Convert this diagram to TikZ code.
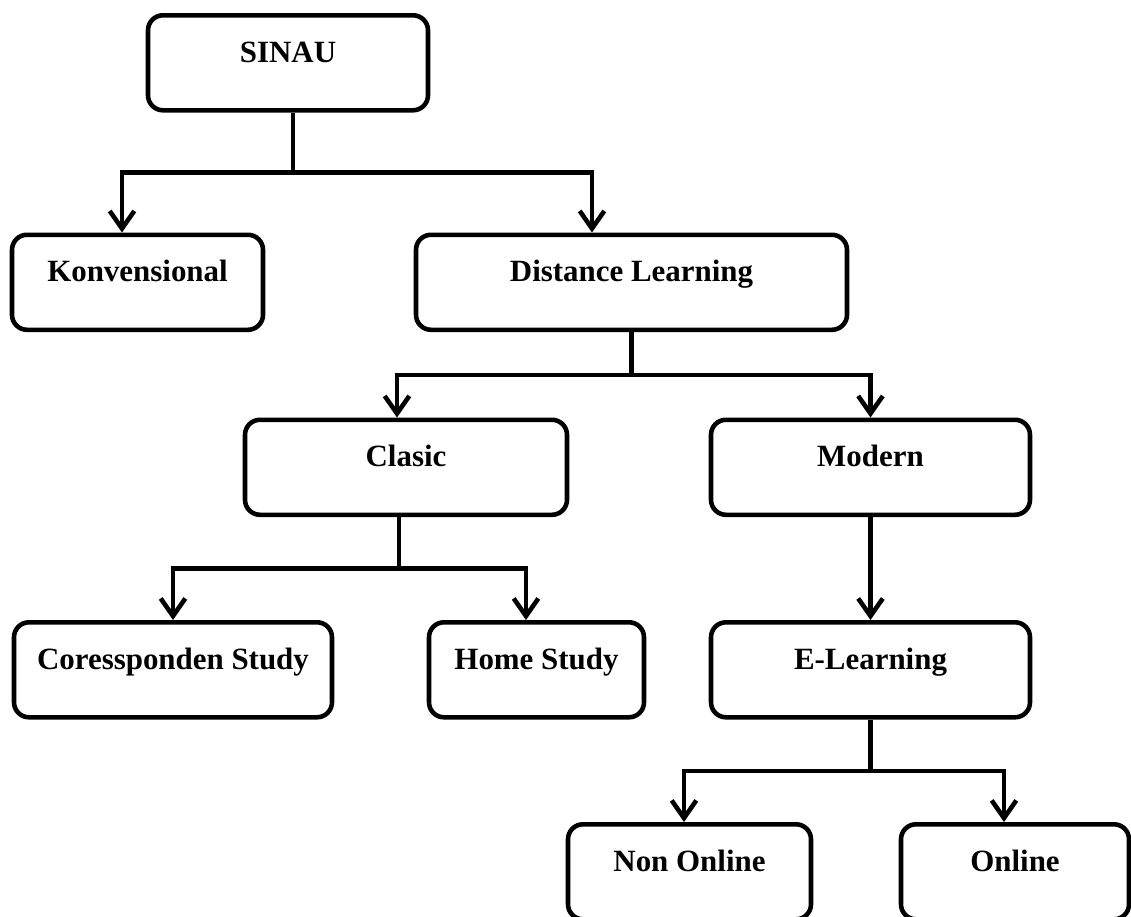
\documentclass[tikz,border=0pt]{standalone}
\usepackage{fontspec}
\setmainfont{Liberation Serif}
\usetikzlibrary{calc}
\usetikzlibrary{positioning}
\usetikzlibrary{arrows.meta}
\tikzset{
	>={Straight Barb[length=10pt,width=14pt]},
	kotak/.style={
		rectangle, 
		rounded corners=0.3cm, 
		draw=black, line width=2.6pt,
		text height=0.94cm, 
		text depth=0.96cm, 
		inner ysep=0pt,
		anchor=north,
		font=\bfseries\fontsize{17.6}{20}\selectfont},
	line/.style={draw, line width=2.6pt, ->},
}

\begin{document}
\begin{tikzpicture}
	\useasboundingbox (0,0) rectangle (22.62,-18.32);
	% boxes
	\node[kotak, minimum width=5.6cm] (sinau) at (5.76,-0.26) {SINAU};
	\node[kotak, minimum width=5.02cm] (konv) at (2.75,-4.65) {Konvensional};
	\node[kotak, minimum width=8.62cm] (distance) at (12.63,-4.65) {Distance Learning};
	\node[kotak, minimum width=6.44cm] (clasic) at (8.12,-8.35) {Clasic};
	\node[kotak, minimum width=6.38cm] (modern) at (17.41,-8.35) {Modern};
	\node[kotak, minimum width=6.36cm] (cores) at (3.46,-12.40) {Coressponden Study};
	\node[kotak, minimum width=4.30cm] (home) at (10.73,-12.40) {Home Study};
	\node[kotak, minimum width=6.38cm] (elearn) at (17.41,-12.40) {E-Learning};
	\node[kotak, minimum width=4.86cm] (nononline) at (13.79,-16.44) {Non Online};
	\node[kotak, minimum width=4.56cm] (online) at (20.30,-16.44) {Online};
	% connectors
	\path[line] ([xshift=.1cm]sinau.south) |- ($(sinau.south)!.5!(konv.north)$) -| ([xshift=-.31cm]konv.north);
	\path[line] ([xshift=.1cm]sinau.south) |- ($(sinau.south)!.5!(distance.north)$) -| ([xshift=-.79cm]distance.north);
	\path[line] (distance.south) |- ($(distance.south)!.5!(clasic.north)$) -| ([xshift=-.18cm]clasic.north);
	\path[line] (distance.south) |- ($(distance.south)!.5!(modern.north)$) -| (modern.north);
	\path[line] ([xshift=-.14cm]clasic.south) |- ($(clasic.south)!.5!(cores.north)$) -| (cores.north);
	\path[line] ([xshift=-.14cm]clasic.south) |- ($(clasic.south)!.5!(home.north)$) -| ([xshift=-.21cm]home.north);
	\path[line] (modern.south) -- (elearn.north);
	\path[line] (elearn.south) |- ($(elearn.south)!.5!(nononline.north)$) -| ([xshift=-.11cm]nononline.north);
	\path[line] (elearn.south) |- ($(elearn.south)!.5!(online.north)$) -| ([xshift=-.22cm]online.north);
\end{tikzpicture}
\end{document}
